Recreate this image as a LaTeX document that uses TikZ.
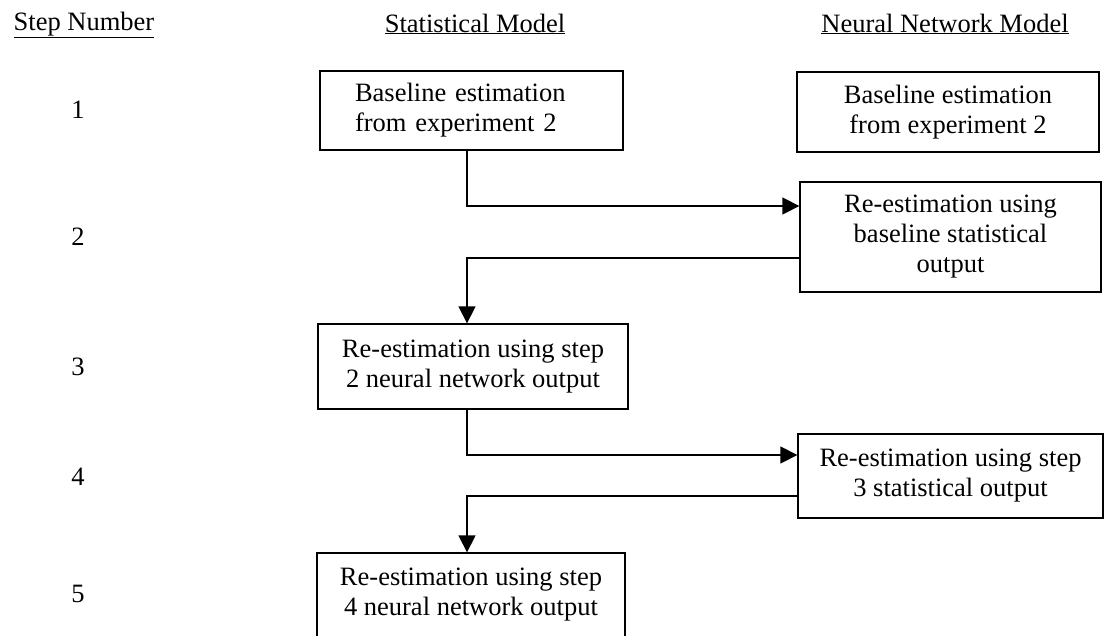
\documentclass[tikz,border=0pt]{standalone}
\usepackage{fontspec}
\setmainfont{Liberation Serif}
\usetikzlibrary{arrows.meta}
\begin{document}
\begin{tikzpicture}[x=1pt,y=-1pt,
  txt/.style={font=\fontsize{26.5}{30}\selectfont},
  box/.style={txt, draw, line width=1.3pt, align=center, inner sep=0pt},
  conn/.style={line width=1.3pt, -{Triangle[length=17pt,width=17pt]}}]
\useasboundingbox (0,0) rectangle (1113,635);
\clip (0,0) rectangle (1113,635);
\fill[white] (0,0) rectangle (1113,635);
% headers
\node[txt, anchor=base] (h1) at (84,30) {\underline{Step Number}};
\node[txt, anchor=base] (h2) at (475,32) {\underline{Statistical Model}};
\node[txt, anchor=base] (h3) at (945,32) {\underline{Neural Network Model}};
% step numbers
\node[txt] (n1) at (78,110) {1};
\node[txt] (n2) at (78,237) {2};
\node[txt] (n3) at (78,367) {3};
\node[txt] (n4) at (78,477) {4};
\node[txt] (n5) at (78,594) {5};
% boxes
\node[box, align=left, text width=233pt, inner xsep=35pt, minimum height=79pt] (A) at (471.5,110.5)
  {Baseline estimation\\from experiment 2};
\node[box, minimum width=302pt, minimum height=80pt] (B) at (948,112)
  {Baseline estimation\\from experiment 2};
\node[box, minimum width=301pt, minimum height=110pt] (C) at (950.5,237)
  {Re-estimation using\\baseline statistical\\output};
\node[box, minimum width=310pt, minimum height=85pt] (D) at (473,366.5)
  {Re-estimation using step\\2 neural network output};
\node[box, minimum width=305pt, minimum height=84pt] (E) at (950.5,476)
  {Re-estimation using step\\3 statistical output};
\node[box, minimum width=308pt, minimum height=84pt] (F) at (471,595)
  {Re-estimation using step\\4 neural network output};
% connectors
\coordinate (col) at (467,0);
\coordinate (r1) at (0,206);
\coordinate (r2) at (0,258);
\coordinate (r3) at (0,455);
\coordinate (r4) at (0,496);
\draw[conn] (A.south -| col) -- (col |- r1) -- (C.west |- r1);
\draw[conn] (C.west |- r2) -- (col |- r2) -- (D.north -| col);
\draw[conn] (D.south -| col) -- (col |- r3) -- (E.west |- r3);
\draw[conn] (E.west |- r4) -- (col |- r4) -- (F.north -| col);
\end{tikzpicture}
\end{document}
